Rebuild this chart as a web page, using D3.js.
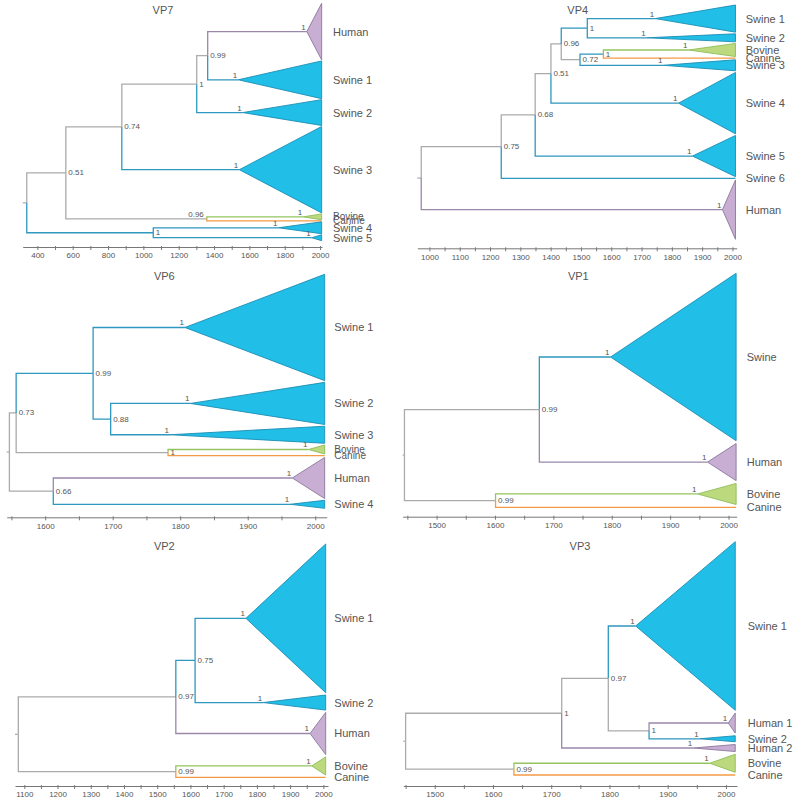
<!DOCTYPE html>
<html><head><meta charset="utf-8">
<script src="https://cdn.jsdelivr.net/npm/d3@7"></script>
<style>
body{margin:0;background:#fff}
svg{display:block}
text{font-family:"Liberation Sans",Arial,Helvetica,sans-serif}
</style>
</head><body>
<svg id="chart" width="800" height="800"></svg>
<script>
// ---------------- DATA ----------------
// Leaves (collapsed clades / single tips), top to bottom: name, MRCA year, clade size
const vp7Leaves = ["Human","Swine 1","Swine 2","Swine 3","Bovine","Canine","Swine 4","Swine 5"];
const vp7LeafYears = [1925,1537,1562,1543,1905,null,1764,1953];
const vp7LeafSizes = [57,38,26,87,6,0,12,6];
// Internal nodes: id, year, posterior support, children, state (S = swine, M = mixed/unknown)
const vp7Nodes = [
  ["R",340,null,["A","B"],"M"],
  ["A",561,"0.51",["C","D"],"M"],
  ["B",1056,"1",["Swine 4","Swine 5"],"S"],
  ["C",878,"0.74",["E","Swine 3"],"M"],
  ["D",1359,"0.96",["Bovine","Canine"],"M"],
  ["E",1302,"1",["F","Swine 2"],"M"],
  ["F",1364,"0.99",["Human","Swine 1"],"M"]
];
const vp7Ticks = [400,600,800,1000,1200,1400,1600,1800,2000];

const vp4Leaves = ["Swine 1","Swine 2","Bovine","Canine","Swine 3","Swine 4","Swine 5","Swine 6","Human"];
const vp4LeafYears = [1745,1717,1855,null,1772,1822,1868,null,1967];
const vp4LeafSizes = [27,8,13,0,11,61,41,0,59];
const vp4Nodes = [
  ["R",973,null,["N1","Human"],"M"],
  ["N1",1237,"0.75",["N2","Swine 6"],"M"],
  ["N2",1349,"0.68",["N3","Swine 5"],"M"],
  ["N3",1401,"0.51",["N4","Swine 4"],"M"],
  ["N4",1435,"0.96",["N5","N6"],"M"],
  ["N5",1521,"1",["Swine 1","Swine 2"],"S"],
  ["N6",1497,"0.72",["N7","Swine 3"],"M"],
  ["N7",1574,"1",["Bovine","Canine"],"S"]
];
const vp4Ticks = [1000,1100,1200,1300,1400,1500,1600,1700,1800,1900,2000];

const vp6Leaves = ["Swine 1","Swine 2","Swine 3","Bovine","Canine","Human","Swine 4"];
const vp6LeafYears = [1807,1815,1785,1990,null,1966,1963];
const vp6LeafSizes = [106,42,17,9,0,41,8];
const vp6Nodes = [
  ["R",1547,null,["N1","N2"],"M"],
  ["N1",1557,"0.73",["N3","N4"],"M"],
  ["N3",1671,"0.99",["Swine 1","N5"],"S"],
  ["N5",1697,"0.88",["Swine 2","Swine 3"],"S"],
  ["N4",1782,"1",["Bovine","Canine"],"M"],
  ["N2",1612,"0.66",["Human","Swine 4"],"M"]
];
const vp6Ticks = [1600,1700,1800,1900,2000];

const vp1Leaves = ["Swine","Human","Bovine","Canine"];
const vp1LeafYears = [1798,1964,1947,null];
const vp1LeafSizes = [167,37,21,0];
const vp1Nodes = [
  ["R",1445,null,["N1","N2"],"M"],
  ["N1",1676,"0.99",["Swine","Human"],"M"],
  ["N2",1601,"0.99",["Bovine","Canine"],"M"]
];
const vp1Ticks = [1500,1600,1700,1800,1900,2000];

const vp2Leaves = ["Swine 1","Swine 2","Human","Bovine","Canine"];
const vp2LeafYears = [1767,1819,1960,1965,null];
const vp2LeafSizes = [148,15,42,18,0];
const vp2Nodes = [
  ["R",1082,null,["N1","N3"],"M"],
  ["N1",1556,"0.97",["N2","Human"],"M"],
  ["N2",1614,"0.75",["Swine 1","Swine 2"],"S"],
  ["N3",1556,"0.99",["Bovine","Canine"],"M"]
];
const vp2Ticks = [1100,1200,1300,1400,1500,1600,1700,1800,1900,2000];

const vp3Leaves = ["Swine 1","Human 1","Swine 2","Human 2","Bovine","Canine"];
const vp3LeafYears = [1845,2004,1955,1944,1972,null];
const vp3LeafSizes = [168,20,6,7,18,0];
const vp3Nodes = [
  ["R",1450,null,["N1","N4"],"M"],
  ["N1",1718,"1",["N2","Human 2"],"M"],
  ["N2",1798,"0.97",["Swine 1","N3"],"M"],
  ["N3",1868,"1",["Human 1","Swine 2"],"M"],
  ["N4",1636,"0.99",["Bovine","Canine"],"M"]
];
const vp3Ticks = [1500,1600,1700,1800,1900,2000];

// most recent tip year per tree
const tipYears = {VP7:2009, VP4:2010, VP6:2014, VP1:2013, VP2:2007, VP3:2016};

// ---------------- LAYOUT / STYLE ----------------
const branchColor = {gray:"#ababab", Swine:"#2e98bf", Human:"#9a87aa", Bovine:"#94c45f", Canine:"#f39a45"};
const cladeFill   = {Swine:"#21bfe8", Human:"#c7aed2", Bovine:"#bdd97e"};
const cladeStroke = {Swine:"#1b8db3", Human:"#8b779c", Bovine:"#8dbd58"};

const panels = [
  {title:"VP7", leaves:vp7Leaves, years:vp7LeafYears, sizes:vp7LeafSizes, nodes:vp7Nodes, ticks:vp7Ticks, minor:100,
   xd:[317,2011], xr:[22.7,322], yr:[3.3,240.7], gap:1, axisY:247, labelX:333, titleXY:[163,10],
   small:["Bovine","Canine"], leftLabel:["D"]},
  {title:"VP4", leaves:vp4Leaves, years:vp4LeafYears, sizes:vp4LeafSizes, nodes:vp4Nodes, ticks:vp4Ticks, minor:50,
   xd:[960,2014], xr:[417.3,736.7], yr:[5,239.3], gap:1.6, axisY:248.3, labelX:745.7, titleXY:[577.7,10],
   small:[], leftLabel:[]},
  {title:"VP6", leaves:vp6Leaves, years:vp6LeafYears, sizes:vp6LeafSizes, nodes:vp6Nodes, ticks:vp6Ticks, minor:50,
   xd:[1543,2017], xr:[6.7,326.7], yr:[274.3,508.3], gap:1.7, axisY:517.3, labelX:334.3, titleXY:[164.3,275.5],
   small:["Bovine","Canine"], leftLabel:[]},
  {title:"VP1", leaves:vp1Leaves, years:vp1LeafYears, sizes:vp1LeafSizes, nodes:vp1Nodes, ticks:vp1Ticks, minor:50,
   xd:[1442,2014], xr:[402.7,736.7], yr:[273.3,507.3], gap:2.8, axisY:516.7, labelX:746.7, titleXY:[578.3,275.5],
   small:[], leftLabel:[]},
  {title:"VP2", leaves:vp2Leaves, years:vp2LeafYears, sizes:vp2LeafSizes, nodes:vp2Nodes, ticks:vp2Ticks, minor:50,
   xd:[1072,2014], xr:[15,328], yr:[544,777.3], gap:2.3, axisY:786, labelX:334.3, titleXY:[164.3,546],
   small:[], leftLabel:[]},
  {title:"VP3", leaves:vp3Leaves, years:vp3LeafYears, sizes:vp3LeafSizes, nodes:vp3Nodes, ticks:vp3Ticks, minor:50,
   xd:[1446,2019], xr:[403.3,737], yr:[541.7,775], gap:2.7, axisY:786, labelX:747.7, titleXY:[580,546],
   small:[], leftLabel:[]}
];

const svg = d3.select("#chart");

panels.forEach(p => {
  const g = svg.append("g");
  const tipYear = tipYears[p.title];
  const x = d3.scaleLinear().domain(p.xd).range(p.xr);

  // leaf vertical extents in clade-size units
  let cum = 0;
  const leafInfo = {};
  p.leaves.forEach((name, i) => {
    const top = cum, bottom = cum + p.sizes[i];
    leafInfo[name] = {name, host:name.split(" ")[0], year:p.years[i] == null ? tipYear : p.years[i],
                      size:p.sizes[i], top, bottom, mid:(top+bottom)/2, leaf:true};
    cum = bottom + p.gap;
  });
  const total = cum - p.gap;
  const y = d3.scaleLinear().domain([0,total]).range(p.yr);

  const nodeInfo = {};
  p.nodes.forEach(([id,year,support,children,state]) => {
    nodeInfo[id] = {id, year, support, children, state, leaf:false};
  });
  const get = n => leafInfo[n] || nodeInfo[n];
  function yOf(n) {
    const d = get(n);
    if (d.leaf) return y(d.mid);
    if (d.yy == null) d.yy = (yOf(d.children[0]) + yOf(d.children[d.children.length-1])) / 2;
    return d.yy;
  }
  const root = p.nodes[0][0];
  function colorOf(d) {
    if (d.leaf) return branchColor[d.host];
    return d.state === "S" ? branchColor.Swine : branchColor.gray;
  }

  // axis
  const minorTicks = d3.range(Math.ceil(p.xd[0]/p.minor)*p.minor, p.xd[1]+0.001, p.minor);
  const axis = d3.axisBottom(x).tickValues(minorTicks).tickSizeInner(3).tickSizeOuter(0).tickPadding(2)
    .tickFormat(v => p.ticks.includes(v) ? String(v) : "");
  const ag = g.append("g").attr("transform", `translate(0,${p.axisY})`).call(axis);
  ag.select(".domain").attr("stroke","#777").attr("stroke-width",1);
  ag.selectAll(".tick line").attr("stroke","#777").attr("y1",-1);
  ag.selectAll(".tick text").attr("fill","#555").attr("font-size","8px").attr("dy","0.8em")
    .style("font-family",'"Liberation Sans",Arial,sans-serif');

  // root stub
  g.append("line").attr("x1", p.xr[0]).attr("x2", x(nodeInfo[root].year))
    .attr("y1", yOf(root)).attr("y2", yOf(root)).attr("stroke", branchColor.gray).attr("stroke-width",1.2);

  // branches
  const branches = [];
  p.nodes.forEach(([id]) => {
    const par = nodeInfo[id];
    par.children.forEach(c => branches.push({par, ch:get(c), cid:c}));
  });
  g.append("g").selectAll("path").data(branches).join("path")
    .attr("d", b => `M${x(b.par.year)},${yOf(b.par.id)}V${yOf(b.cid)}H${x(b.ch.year)}`)
    .attr("fill","none").attr("stroke", b => colorOf(b.ch)).attr("stroke-width",1.3)
    .attr("stroke-linejoin","miter");

  // collapsed clade triangles
  const tri = p.leaves.map(n => leafInfo[n]).filter(d => d.size > 0);
  g.append("g").selectAll("path").data(tri).join("path")
    .attr("d", d => `M${x(d.year)},${y(d.mid)}L${x(tipYear)},${y(d.top)}L${x(tipYear)},${y(d.bottom)}Z`)
    .attr("fill", d => cladeFill[d.host]).attr("stroke", d => cladeStroke[d.host]).attr("stroke-width",0.9)
    .attr("stroke-linejoin","miter");

  // clade support "1" labels
  g.append("g").selectAll("text").data(tri).join("text")
    .attr("x", d => x(d.year) - 1).attr("y", d => y(d.mid) - 2)
    .attr("text-anchor","end").attr("font-size","8px").attr("fill","#555")
    .text("1");

  // internal node support labels
  const lab = p.nodes.filter(n => n[2] != null).map(n => nodeInfo[n[0]]);
  g.append("g").selectAll("text").data(lab).join("text")
    .attr("x", d => p.leftLabel.includes(d.id) ? x(d.year) - 3 : x(d.year) + 2.5)
    .attr("y", d => p.leftLabel.includes(d.id) ? yOf(d.id) - 2 : yOf(d.id))
    .attr("dominant-baseline", d => p.leftLabel.includes(d.id) ? "auto" : "central")
    .attr("text-anchor", d => p.leftLabel.includes(d.id) ? "end" : "start")
    .attr("font-size","8px").attr("fill","#555")
    .text(d => d.support);

  // clade names
  g.append("g").selectAll("text").data(p.leaves.map(n => leafInfo[n])).join("text")
    .attr("x", p.labelX).attr("y", d => y(d.mid))
    .attr("dominant-baseline","central")
    .attr("font-size", d => p.small.includes(d.name) ? "10px" : "11px")
    .attr("fill","#555")
    .text(d => d.name);

  // title
  g.append("text").attr("x", p.titleXY[0]).attr("y", p.titleXY[1])
    .attr("text-anchor","middle").attr("dominant-baseline","central")
    .attr("font-size","11px").attr("fill","#555").text(p.title);
});
</script>
</body></html>
